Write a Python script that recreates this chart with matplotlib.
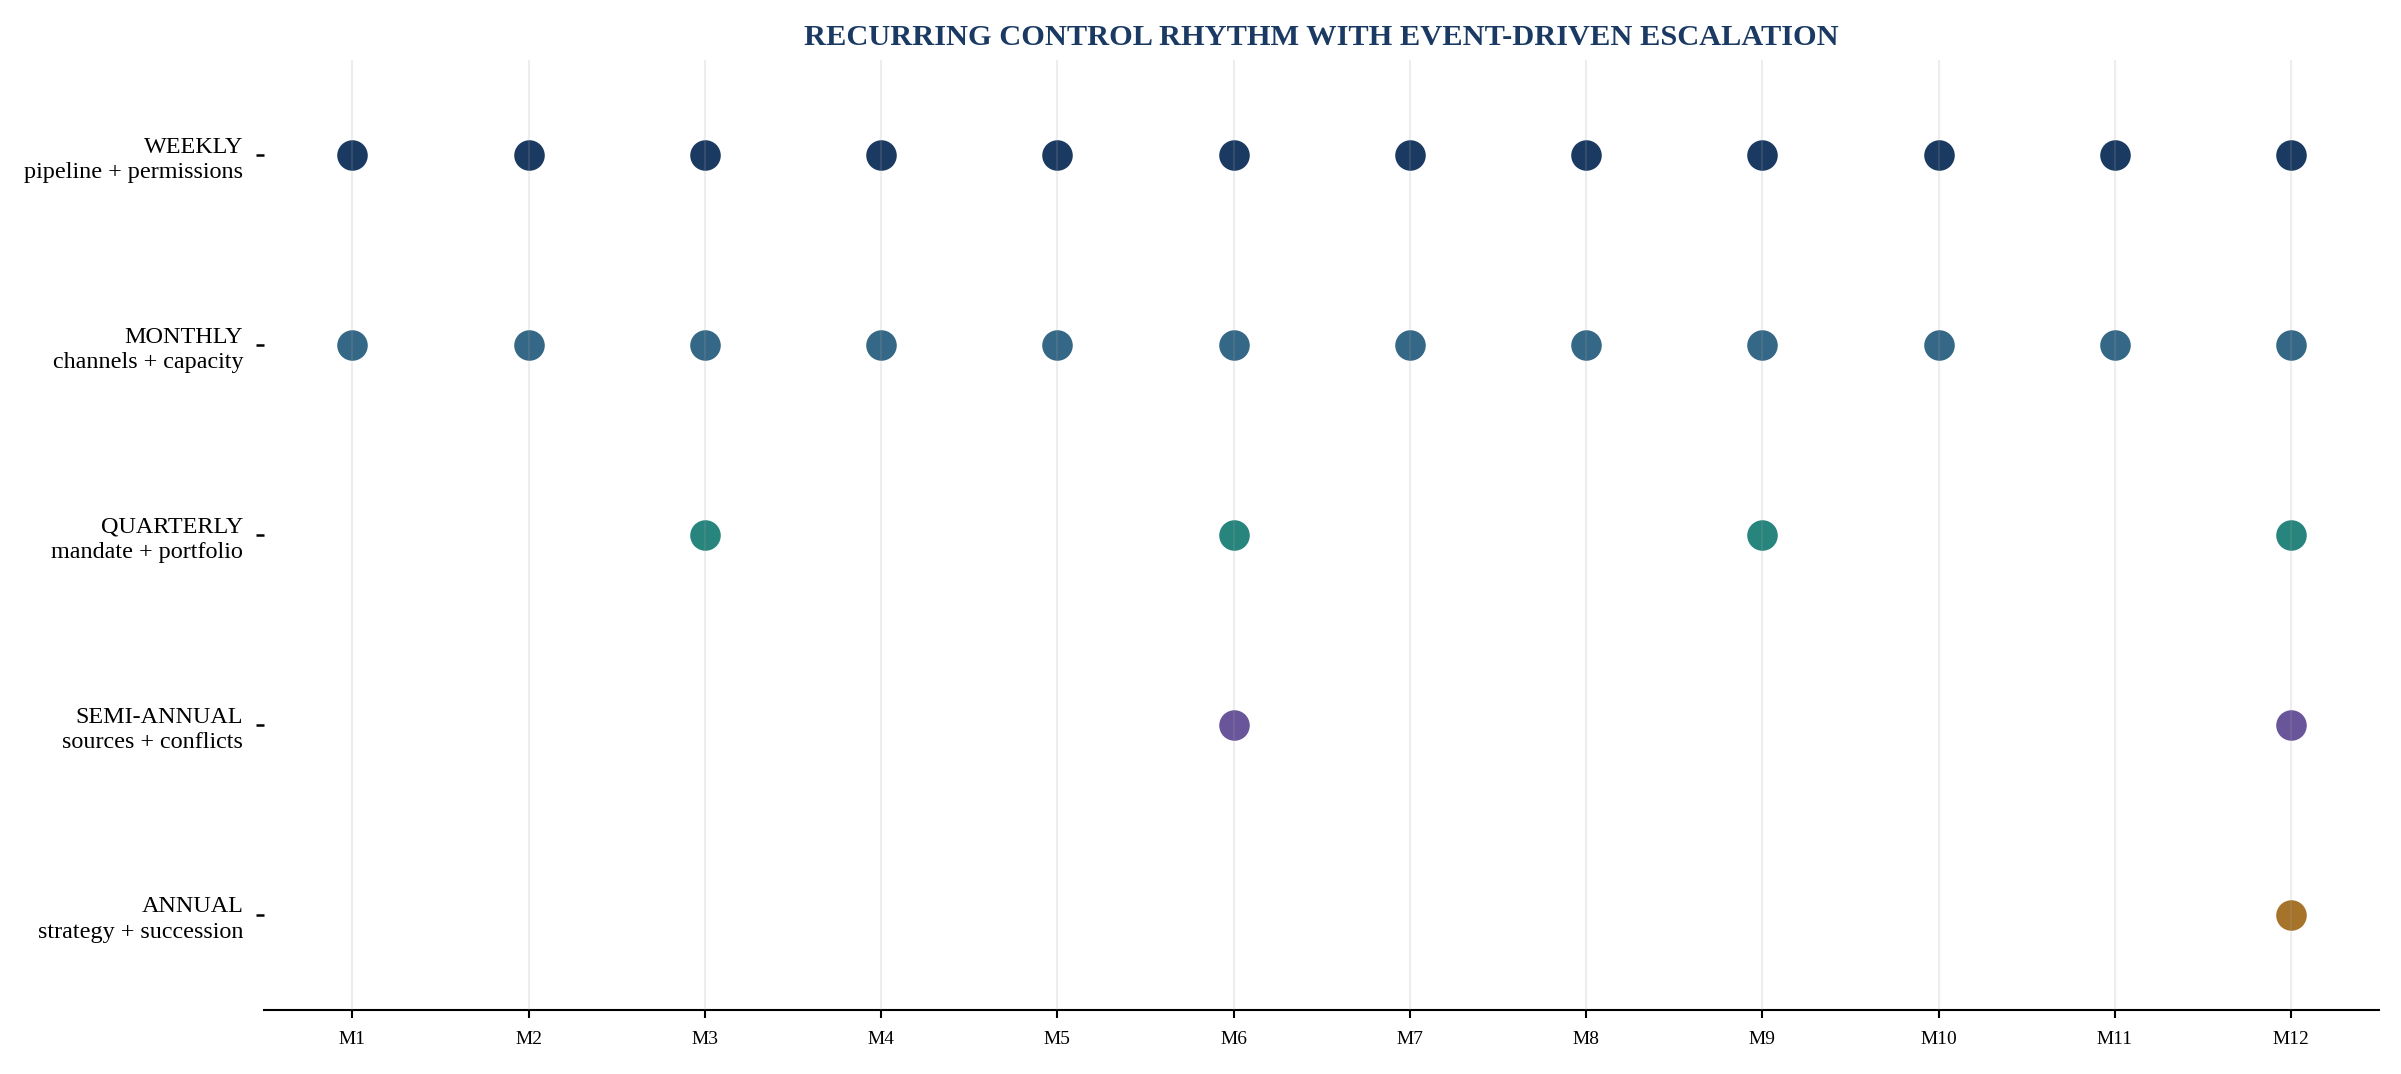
import matplotlib.pyplot as plt
import numpy as np

plt.rcParams['font.family'] = ['Liberation Serif', 'DejaVu Serif']

# Данные: ритм контролей по месяцам
months = ['M%d' % i for i in range(1, 13)]
cadences = ['WEEKLY', 'MONTHLY', 'QUARTERLY', 'SEMI-ANNUAL', 'ANNUAL']
scopes = ['pipeline + permissions', 'channels + capacity', 'mandate + portfolio',
          'sources + conflicts', 'strategy + succession']
weekly_months = [1, 2, 3, 4, 5, 6, 7, 8, 9, 10, 11, 12]
monthly_months = [1, 2, 3, 4, 5, 6, 7, 8, 9, 10, 11, 12]
quarterly_months = [3, 6, 9, 12]
semiannual_months = [6, 12]
annual_months = [12]
colors = ['#1b3a62', '#356886', '#27857d', '#69559a', '#a6732b']

schedule = [weekly_months, monthly_months, quarterly_months, semiannual_months, annual_months]

fig = plt.figure(figsize=(2401 / 150, 1074 / 150), dpi=150)
ax = fig.add_axes([0.110, 0.0596, 0.881, 0.8845])

for row, (ms, c) in enumerate(zip(schedule, colors)):
    ax.scatter(ms, [row] * len(ms), s=215, color=c, linewidths=0, zorder=2)

ax.set_xlim(0.5, 12.5)
ax.set_ylim(4.5, -0.5)
ax.set_xticks(range(1, 13))
ax.set_xticklabels(months, fontsize=9.3)
ax.set_yticks(range(len(cadences)))
ax.set_yticklabels([f'{a}\n{b}' for a, b in zip(cadences, scopes)], fontsize=11.6, linespacing=1.3)

# сетка поверх точек, полупрозрачная
ax.grid(axis='x', color='#a0a0a0', alpha=0.19, linewidth=1.0, zorder=3)
ax.set_axisbelow(False)
for side in ['top', 'right', 'left']:
    ax.spines[side].set_visible(False)
ax.spines['bottom'].set_linewidth(1.0)
ax.tick_params(axis='y', length=4, width=1.2, pad=6)
ax.tick_params(axis='x', length=4, width=1.0, pad=6)

ax.set_title('RECURRING CONTROL RHYTHM WITH EVENT-DRIVEN ESCALATION',
             fontsize=14.6, fontweight='bold', color='#1b3a63', pad=7)

fig.savefig('out.png', dpi=150)
